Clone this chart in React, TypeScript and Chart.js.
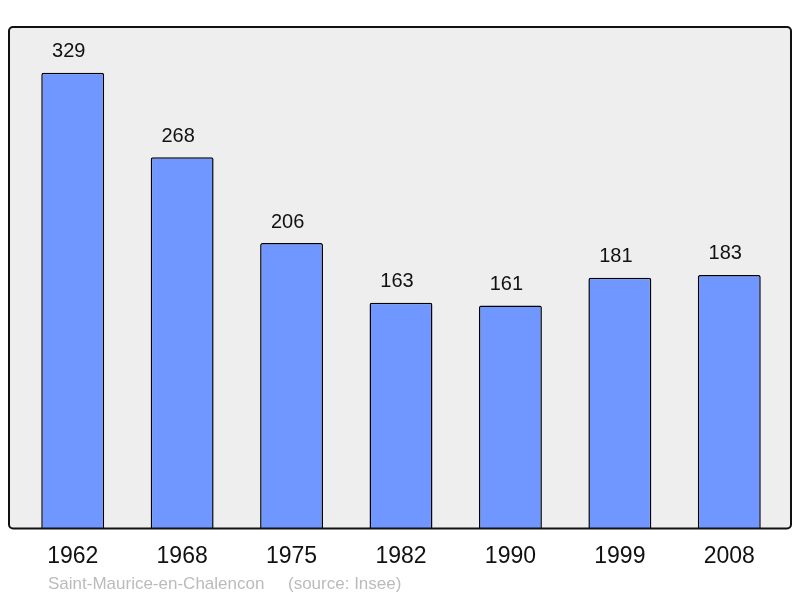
import { useEffect, useRef } from 'react';
import { Chart, registerables } from 'chart.js';

Chart.register(...registerables);

const years = ['1962', '1968', '1975', '1982', '1990', '1999', '2008'];
const population = [329, 268, 206, 163, 161, 181, 183];
const placeName = 'Saint-Maurice-en-Chalencon';
const sourceNote = '(source: Insee)';

const FONT = '"Liberation Sans", Arial, sans-serif';

function roundRect(ctx: CanvasRenderingContext2D, x: number, y: number, w: number, h: number, r: number) {
  ctx.beginPath();
  ctx.moveTo(x + r, y);
  ctx.lineTo(x + w - r, y);
  ctx.arcTo(x + w, y, x + w, y + r, r);
  ctx.lineTo(x + w, y + h - r);
  ctx.arcTo(x + w, y + h, x + w - r, y + h, r);
  ctx.lineTo(x + r, y + h);
  ctx.arcTo(x, y + h, x, y + h - r, r);
  ctx.lineTo(x, y + r);
  ctx.arcTo(x, y, x + r, y, r);
  ctx.closePath();
}

// frame box: chart area widened a little on both sides
function frameRect(chart: Chart) {
  const a = chart.chartArea;
  return { x: a.left - 9, y: a.top, w: a.right - a.left + 16, h: a.bottom - a.top };
}

const framePlugin = {
  id: 'frame',
  beforeDatasetsDraw(chart: Chart) {
    const ctx = chart.ctx;
    const f = frameRect(chart);
    ctx.save();
    roundRect(ctx, f.x, f.y, f.w, f.h, 4);
    ctx.fillStyle = '#eeeeee';
    ctx.fill();
    ctx.restore();
  },
  afterDatasetsDraw(chart: Chart) {
    const ctx = chart.ctx;
    const f = frameRect(chart);
    ctx.save();
    roundRect(ctx, f.x, f.y, f.w, f.h, 4);
    ctx.lineWidth = 2;
    ctx.strokeStyle = '#111111';
    ctx.stroke();

    // value labels over the bars
    const meta = chart.getDatasetMeta(0);
    ctx.font = `20px ${FONT}`;
    ctx.fillStyle = '#111111';
    ctx.textAlign = 'center';
    ctx.textBaseline = 'middle';
    meta.data.forEach((bar: any, i: number) => {
      ctx.fillText(String(population[i]), bar.x - 4, bar.y - 21);
    });

    // caption
    ctx.font = `17px ${FONT}`;
    ctx.fillStyle = '#bbbbbb';
    ctx.textAlign = 'left';
    ctx.fillText(placeName, 48, 584);
    ctx.fillText(sourceNote, 288, 584);
    ctx.restore();
  },
};

export default function App() {
  const canvasRef = useRef<HTMLCanvasElement>(null);
  const chartRef = useRef<Chart | null>(null);

  useEffect(() => {
    if (!canvasRef.current) return;
    if (chartRef.current) chartRef.current.destroy();

    chartRef.current = new Chart(canvasRef.current, {
      type: 'bar',
      data: {
        labels: years,
        datasets: [
          {
            data: population,
            backgroundColor: '#7097ff',
            borderColor: '#000000',
            borderWidth: 1.5,
            borderRadius: 2,
            borderSkipped: 'bottom',
            barPercentage: 0.575,
            categoryPercentage: 1,
          },
        ],
      },
      options: {
        animation: false,
        responsive: false,
        devicePixelRatio: 1,
        layout: { padding: { left: 18, right: 16, top: 27, bottom: 14 } },
        plugins: { legend: { display: false }, tooltip: { enabled: false } },
        scales: {
          y: { display: false, min: 0, max: 362 },
          x: {
            grid: { display: false, drawTicks: false },
            border: { display: false },
            ticks: { color: '#111111', padding: 14, font: { family: FONT, size: 23 } },
          },
        },
      },
      plugins: [framePlugin],
    });

    return () => {
      if (chartRef.current) {
        chartRef.current.destroy();
        chartRef.current = null;
      }
    };
  }, []);

  return (
    <div style={{ position: 'fixed', left: 0, top: 0, width: 800, height: 598, background: '#fff' }}>
      <canvas ref={canvasRef} width={800} height={598} style={{ width: 800, height: 598 }} />
    </div>
  );
}
